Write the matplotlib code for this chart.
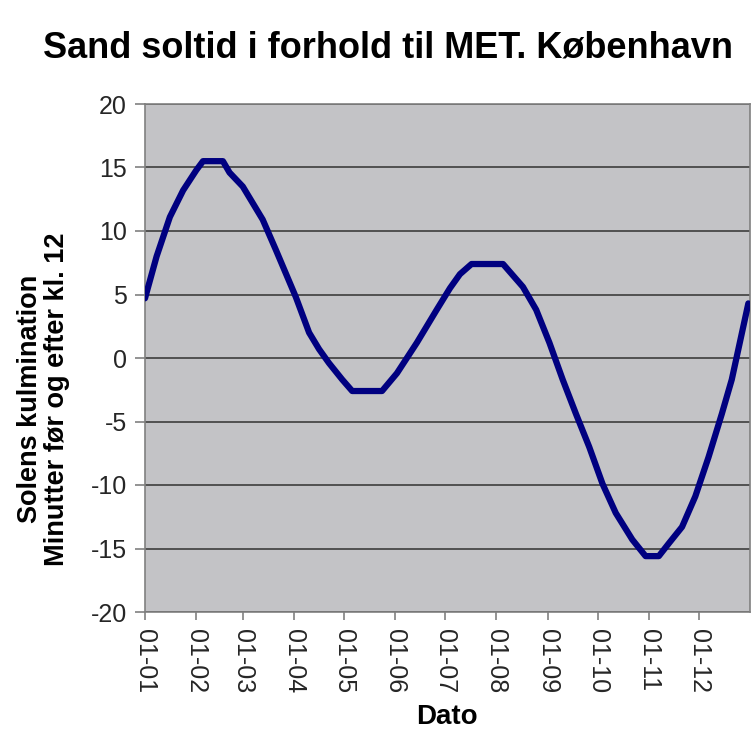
import matplotlib
matplotlib.use("Agg")
import matplotlib.pyplot as plt

plt.rcParams['font.family'] = ['Liberation Sans', 'DejaVu Sans']
plt.rcParams['axes.unicode_minus'] = False

# Dag i året (0 = 1. januar) og minutter før/efter kl. 12
dage = [0, 7, 15, 23, 31, 35, 47, 51, 59, 71, 79, 91, 99, 105, 111, 119, 125, 143,
        152, 164, 176, 184, 190, 197, 216, 228, 236, 244, 252, 260, 268, 276,
        284, 294, 302, 310, 316, 324, 332, 340, 348, 354, 364]
minutter = [4.7, 8.0, 11.1, 13.2, 14.8, 15.5, 15.5, 14.6, 13.5, 10.9, 8.5, 4.8,
            2.0, 0.7, -0.4, -1.7, -2.6, -2.6, -1.2, 1.2, 3.8, 5.5, 6.6, 7.4, 7.4,
            5.6, 3.8, 1.2, -1.7, -4.4, -7.0, -9.9, -12.2, -14.3, -15.6, -15.6,
            -14.6, -13.3, -10.9, -7.8, -4.4, -1.7, 4.3]

# Månedsstart
maaned_dage = [0, 31, 59, 90, 120, 151, 181, 212, 243, 273, 304, 334]
maaned_labels = ["01-01", "01-02", "01-03", "01-04", "01-05", "01-06",
                 "01-07", "01-08", "01-09", "01-10", "01-11", "01-12"]

fig = plt.figure(figsize=(7.52, 7.49), dpi=100)
ax = fig.add_axes([145 / 752, 1 - 612 / 749, 605 / 752, 508 / 749])
ax.set_facecolor('#c3c3c6')

ax.plot(dage, minutter, color='#000080', linewidth=4.5,
        solid_joinstyle='round', solid_capstyle='round', zorder=3)

ax.set_xlim(0, 365)
ax.set_ylim(-20, 20)
ax.set_yticks(range(-20, 21, 5))
ax.set_xticks(maaned_dage)
ax.set_xticklabels(maaned_labels, rotation=270)

ax.grid(axis='y', color='#505050', linewidth=1.4)
ax.grid(axis='x', visible=False)
ax.set_axisbelow(True)

for s in ax.spines.values():
    s.set_color('#808080')
    s.set_linewidth(1.2)

ax.tick_params(axis='y', direction='out', length=7, width=1.2, color='#808080',
               labelsize=18, labelcolor='#262626', pad=6)
ax.tick_params(axis='x', direction='out', length=6, width=1.2, color='#808080',
               labelsize=18, labelcolor='#262626', pad=6)

fig.text(388 / 752, 1 - 48 / 749, "Sand soltid i forhold til MET. København",
         ha='center', va='center', fontsize=26, fontweight='bold')
fig.text(44 / 752, 1 - 399 / 749,
         "Solens kulmination\nMinutter før og efter kl. 12",
         rotation=90, ha='center', va='center', multialignment='center',
         fontsize=19.5, fontweight='bold', linespacing=1.05)
fig.text(447 / 752, 1 - 717 / 749, "Dato", ha='center', va='center',
         fontsize=20, fontweight='bold')

fig.savefig("out.png", dpi=100)
